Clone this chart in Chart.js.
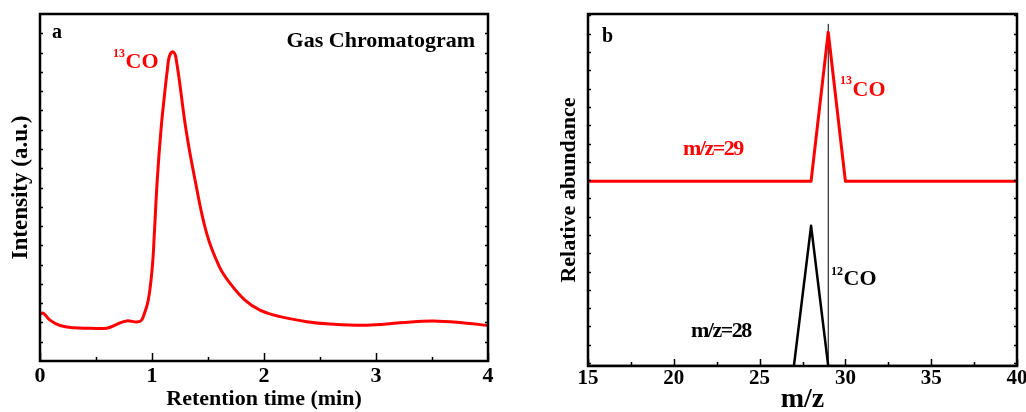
<!DOCTYPE html>
<html>
<head>
<meta charset="utf-8">
<script src="https://cdn.jsdelivr.net/npm/chart.js@4.4.1/dist/chart.umd.min.js"></script>
<style>
  html, body { margin: 0; padding: 0; background: #fff; }
  #wrap { position: relative; width: 1026px; height: 412px; overflow: hidden; }
  .panel { position: absolute; top: 0; height: 412px; }
  #panelA { left: 0; width: 515px; }
  #panelB { left: 515px; width: 511px; }
</style>
</head>
<body>
<div id="wrap">
  <div class="panel" id="panelA"><canvas id="chartA" width="515" height="412"></canvas></div>
  <div class="panel" id="panelB"><canvas id="chartB" width="511" height="412"></canvas></div>
</div>
<script>
// (a) gas chromatogram: retention time (min) / intensity (a.u.)
const gcTime = [0, 0.03, 0.089, 0.179, 0.30, 0.45, 0.595, 0.685, 0.774, 0.863, 0.90, 0.922,
  0.967, 1.003, 1.021, 1.047, 1.08, 1.11, 1.137, 1.154, 1.185, 1.214, 1.304, 1.384,
  1.488, 1.601, 1.696, 1.83, 1.964, 2.143, 2.381, 2.589, 2.917, 3.214, 3.51, 3.81, 4.0];
const gcIntensity = [12.2, 12.4, 10.6, 9.2, 8.6, 8.5, 8.5, 9.5, 10.4, 10.1, 10.4, 11.5,
  15.8, 24.5, 33.1, 47.0, 59.9, 68.6, 75.5, 78.9, 80.2, 78.6, 59.9, 47.0,
  33.1, 24.5, 20.2, 15.8, 13.2, 11.5, 10.2, 9.6, 9.3, 9.9, 10.4, 9.8, 9.2];
const gcTickLabels = [0, 1, 2, 3, 4];

// (b) mass spectra, m/z 29 trace sits on an offset baseline
const mz29 = [15, 28, 29, 30, 40];
const abund29 = [50.5, 50.5, 91.2, 50.5, 50.5];
const mz28 = [15, 27, 28, 29, 40];
const abund28 = [0, 0, 38.3, 0, 0];
const markerMz = [29, 29];
const markerAbund = [0, 93.5];
const mzTickLabels = [15, 20, 25, 30, 35, 40];

const SERIF = "'Liberation Serif', 'Times New Roman', serif";
Chart.defaults.color = '#000';
Chart.defaults.font.family = SERIF;
Chart.defaults.font.weight = 'bold';

function toPoints(xs, ys) {
  return xs.map((x, i) => ({ x: x, y: ys[i] }));
}

// box + inward ticks, drawn over the data like the plotting program does
const frameTicks = {
  id: 'frameTicks',
  afterDatasetsDraw(chart, args, o) {
    const { ctx, chartArea: a, scales: { x, y } } = chart;
    ctx.save();
    ctx.strokeStyle = '#000';
    ctx.lineWidth = 1.5;
    ctx.beginPath();
    for (let v = x.min; v <= x.max + 1e-9; v += o.xMinor) {
      const px = Math.round(x.getPixelForValue(v)) + 0.5;
      const r = v / o.xMajor;
      const len = Math.abs(r - Math.round(r)) < 1e-6 ? o.majorLen : o.minorLen;
      ctx.moveTo(px, a.bottom);
      ctx.lineTo(px, a.bottom - len);
    }
    for (let v = o.yStart; v < y.max; v += o.yStep) {
      const py = Math.round(y.getPixelForValue(v)) + 0.5;
      ctx.moveTo(a.left, py);
      ctx.lineTo(a.left + o.yLen, py);
      ctx.moveTo(a.right, py);
      ctx.lineTo(a.right - o.yLen, py);
    }
    ctx.stroke();
    ctx.lineWidth = 2.5;
    ctx.strokeRect(a.left, a.top, a.right - a.left, a.bottom - a.top);
    ctx.restore();
  }
};

// free text labels; sup = superscript prefix
const labels = {
  id: 'labels',
  afterDraw(chart, args, o) {
    const ctx = chart.ctx;
    ctx.save();
    ctx.textBaseline = 'alphabetic';
    o.items.forEach(t => {
      ctx.fillStyle = t.color || '#000';
      let x = t.x;
      if (t.sup) {
        ctx.font = 'bold ' + t.supSize + 'px ' + SERIF;
        ctx.letterSpacing = '0px';
        ctx.textAlign = 'left';
        ctx.fillText(t.sup, x, t.supY);
        x += ctx.measureText(t.sup).width + 0.5;
      }
      ctx.font = 'bold ' + t.size + 'px ' + SERIF;
      ctx.letterSpacing = (t.spacing || 0) + 'px';
      ctx.textAlign = t.align || 'left';
      ctx.fillText(t.text, x, t.y);
    });
    ctx.restore();
  }
};

function fixedWidth(w) {
  return s => { s.width = w; s.paddingTop = 0; s.paddingBottom = 0; };
}
function fixedHeight(h) {
  return s => { s.height = h; s.paddingLeft = 0; s.paddingRight = 0; };
}

new Chart(document.getElementById('chartA'), {
  type: 'line',
  data: {
    datasets: [{
      data: toPoints(gcTime, gcIntensity),
      borderColor: '#ff0000',
      borderWidth: 3,
      pointRadius: 0,
      tension: 0.4,
      fill: false
    }]
  },
  options: {
    responsive: false,
    animation: false,
    events: [],
    layout: { autoPadding: false, padding: { left: 0, top: 14, right: 27, bottom: 0 } },
    plugins: {
      legend: { display: false },
      tooltip: { enabled: false },
      frameTicks: { xMinor: 0.5, xMajor: 1, majorLen: 8, minorLen: 4, yStart: 5, yStep: 5, yLen: 3 },
      labels: {
        items: [
          { text: 'a', x: 52, y: 38, size: 20 },
          { text: 'Gas Chromatogram', x: 475, y: 47, size: 22, align: 'right' },
          { text: 'CO', sup: '13', x: 113, supY: 57, supSize: 12, y: 68, size: 22, color: '#ff0000' }
        ]
      }
    },
    scales: {
      x: {
        type: 'linear', min: 0, max: 4,
        afterBuildTicks: s => { s.ticks = gcTickLabels.map(v => ({ value: v })); },
        afterFit: fixedHeight(51),
        grid: { display: false },
        border: { display: false },
        ticks: { font: { size: 22, weight: 'bold' }, padding: -6, maxRotation: 0 },
        title: { display: true, text: 'Retention time (min)', font: { size: 22, weight: 'bold', lineHeight: 1.0 }, padding: { top: 0, bottom: 2 } }
      },
      y: {
        type: 'linear', min: 0, max: 90,
        afterFit: fixedWidth(40),
        grid: { display: false },
        border: { display: false },
        ticks: { display: false },
        title: { display: true, text: 'Intensity (a.u.)', font: { size: 23, weight: 'bold', lineHeight: 1.0 }, padding: { top: 10, bottom: 0 } }
      }
    }
  },
  plugins: [frameTicks, labels]
});

new Chart(document.getElementById('chartB'), {
  type: 'line',
  data: {
    datasets: [{
      data: toPoints(mz29, abund29),
      borderColor: '#ff0000',
      borderWidth: 3,
      borderJoinStyle: 'round',
      pointRadius: 0,
      tension: 0,
      fill: false
    }, {
      data: toPoints(mz28, abund28),
      borderColor: '#000000',
      borderWidth: 2.5,
      borderJoinStyle: 'round',
      pointRadius: 0,
      tension: 0,
      fill: false
    }, {
      data: toPoints(markerMz, markerAbund),
      borderColor: '#000000',
      borderWidth: 1,
      pointRadius: 0,
      fill: false
    }]
  },
  options: {
    responsive: false,
    animation: false,
    events: [],
    layout: { autoPadding: false, padding: { left: 0, top: 14, right: 9, bottom: 0 } },
    plugins: {
      legend: { display: false },
      tooltip: { enabled: false },
      frameTicks: { xMinor: 2.5, xMajor: 5, majorLen: 7, minorLen: 4, yStart: 0.8, yStep: 5, yLen: 3 },
      labels: {
        items: [
          { text: 'b', x: 87, y: 42, size: 20 },
          { text: 'CO', sup: '13', x: 325, supY: 84, supSize: 12, y: 96, size: 22, color: '#ff0000' },
          { text: 'm/z=29', x: 168, y: 155, size: 22, spacing: -1.5, color: '#ff0000' },
          { text: 'CO', sup: '12', x: 316, supY: 275, supSize: 12, y: 285, size: 22 },
          { text: 'm/z=28', x: 176, y: 337, size: 22, spacing: -1.5 }
        ]
      }
    },
    scales: {
      x: {
        type: 'linear', min: 15, max: 40,
        afterBuildTicks: s => { s.ticks = mzTickLabels.map(v => ({ value: v })); },
        afterFit: fixedHeight(46),
        grid: { display: false },
        border: { display: false },
        ticks: { font: { size: 21, weight: 'bold' }, padding: -8, maxRotation: 0 },
        title: { display: true, text: 'm/z', font: { size: 28, weight: 'bold', lineHeight: 0.9 }, padding: { top: 0, bottom: 0 } }
      },
      y: {
        type: 'linear', min: 0, max: 96.2,
        afterFit: fixedWidth(73),
        grid: { display: false },
        border: { display: false },
        ticks: { display: false },
        title: { display: true, text: 'Relative abundance', font: { size: 22, weight: 'bold', lineHeight: 1.0 }, padding: { top: 43, bottom: 0 } }
      }
    }
  },
  plugins: [frameTicks, labels]
});
</script>
</body>
</html>
